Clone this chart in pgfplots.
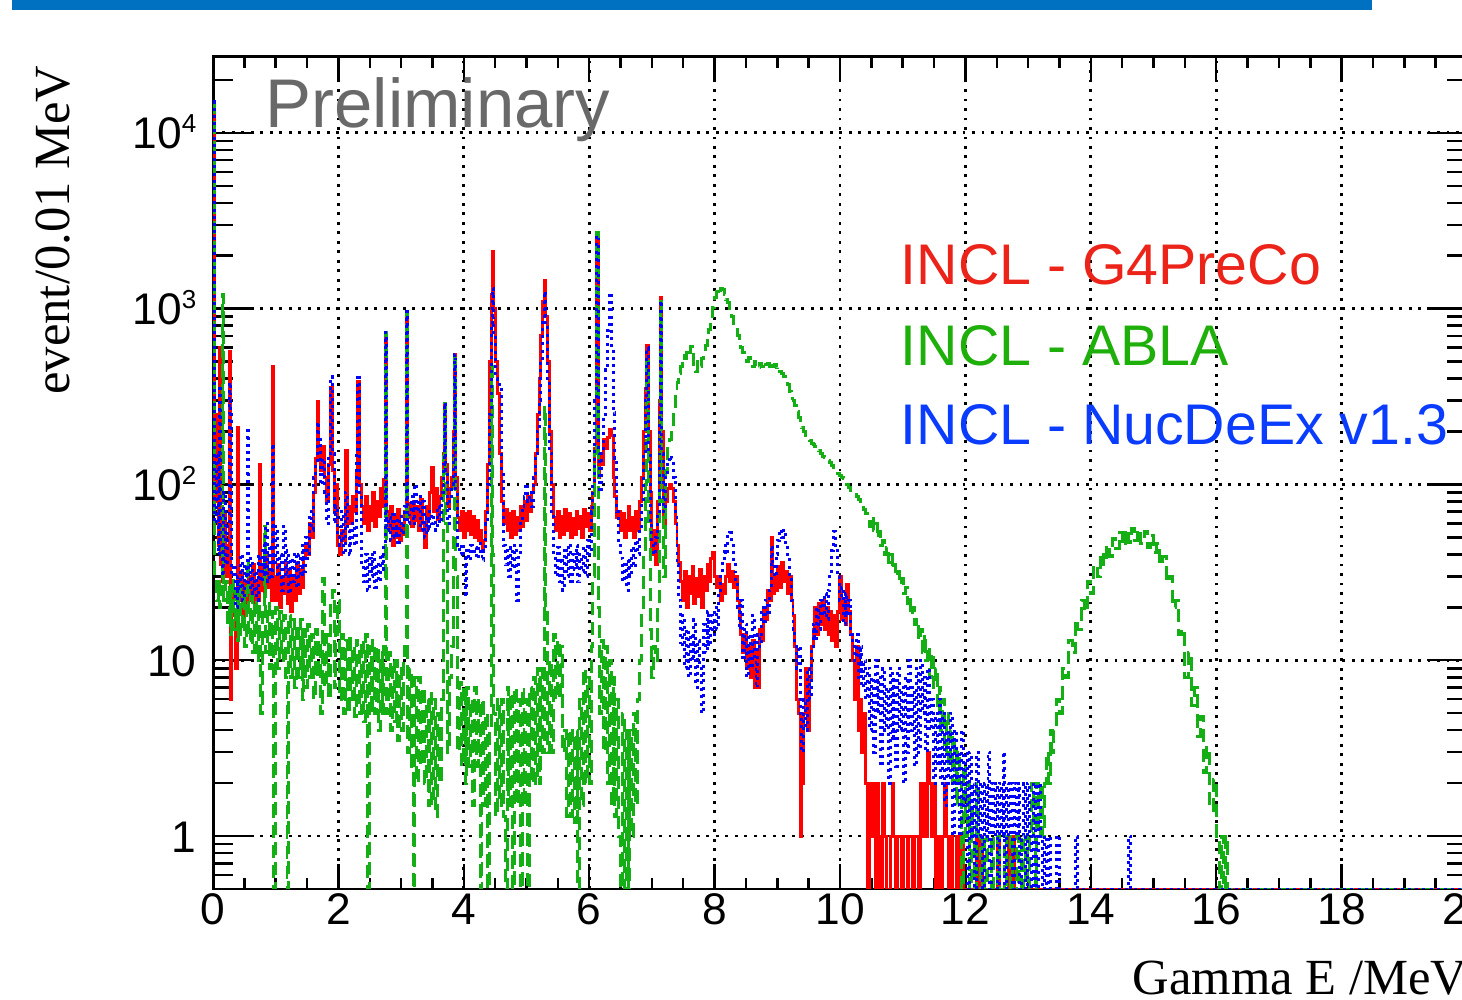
\documentclass[border=0pt]{standalone}
\usepackage{fontspec}
\setmainfont{Liberation Sans}
\newfontfamily\seriffont{Liberation Serif}
\usepackage{pgfplots}
\usepackage{pgfplotstable}
\pgfplotsset{compat=1.18}
\definecolor{rootred}{RGB}{255,0,0}
\definecolor{rootgreen}{RGB}{20,175,20}
\definecolor{rootblue}{RGB}{0,0,255}
\definecolor{barblue}{RGB}{0,112,192}
\definecolor{prelgray}{RGB}{105,105,105}
\definecolor{legred}{RGB}{235,35,25}
\definecolor{leggreen}{RGB}{30,175,10}
\definecolor{legblue}{RGB}{10,60,255}
\newcommand{\sups}[1]{\raisebox{4.6pt}{\fontsize{7.4}{8}\selectfont #1}}

\pgfplotstableread{
E R G B
0.00 15000 15000 15000
0.02 80 30 60
0.05 250 22 150
0.08 45 28 40
0.10 600 20 350
0.12 35 25 45
0.15 28 1200 30
0.17 70 22 90
0.20 30 28 35
0.23 45 16 60
0.26 570 26 380
0.28 6 14 250
0.30 25 29 30
0.33 18 15 35
0.36 9 25 20
0.39 210 13 30
0.41 22 27 25
0.44 32 14 40
0.47 18 24 22
0.50 28 12 35
0.53 20 26 28
0.55 24 37 210
0.57 30 13 26
0.60 22 23 38
0.63 35 11 24
0.66 20 22 32
0.69 28 10 22
0.72 22 21 40
0.74 130 12 35
0.76 25 5 28
0.79 35 20 45
0.82 24 58 30
0.84 40 11 60
0.87 26 21 28
0.90 32 9 45
0.93 22 19 30
0.95 470 12 170
0.97 30 0.5 35
1.00 22 20 58
1.03 35 9 30
1.06 20 19 40
1.09 30 10 25
1.12 24 18 58
1.15 36 8 30
1.18 21 0.5 42
1.21 33 18 24
1.24 19 8 38
1.27 30 17 28
1.30 22 7 41
1.33 36 16 26
1.36 24 8 40
1.39 33 17 30
1.42 26 6 45
1.45 38 15 32
1.48 45 7 50
1.51 40 16 38
1.54 60 8 70
1.57 50 14 55
1.60 90 6 110
1.63 140 15 130
1.66 295 8 225
1.69 160 13 180
1.72 120 5 100
1.75 165 29 140
1.78 110 7 90
1.81 80 14 60
1.84 130 6 150
1.87 355 22 410
1.90 120 25 150
1.93 70 7 60
1.96 100 14 75
1.99 45 22 50
2.02 40 6 45
2.05 55 14 70
2.08 48 5 40
2.11 155 13 90
2.14 60 5 55
2.17 75 14 40
2.20 60 6 50
2.23 85 12 60
2.26 70 4.8 45
2.29 120 13 150
2.31 385 12 420
2.34 100 5 90
2.37 75 13 35
2.40 60 4.5 28
2.43 85 14 40
2.46 55 0.5 25
2.49 75 12 38
2.52 62 5 30
2.55 90 13 42
2.58 58 5 26
2.61 80 12 36
2.64 66 4 28
2.67 95 11 40
2.70 75 5 33
2.72 107 12 45
2.75 730 730 730
2.77 70 5 55
2.80 55 11 65
2.83 75 4 48
2.86 45 10 70
2.89 65 4.5 50
2.92 50 10 62
2.95 72 3.5 45
2.98 48 9 66
3.01 60 4 52
3.04 52 10 60
3.06 70 12 75
3.08 960 960 960
3.10 65 3 60
3.13 78 9 70
3.16 58 2.5 85
3.19 80 0.5 60
3.22 62 8 100
3.25 75 2 70
3.28 55 8 85
3.31 82 2.5 55
3.34 60 7 80
3.37 44 2 50
3.40 75 6 65
3.43 65 1.5 55
3.46 90 6.5 70
3.49 125 1.5 60
3.52 70 6 65
3.55 95 1.3 55
3.58 63 5 75
3.61 85 2 60
3.64 110 6 90
3.67 150 145 130
3.69 290 290 290
3.71 130 60 120
3.74 75 3 60
3.77 95 8 80
3.80 110 12 100
3.83 200 50 180
3.85 550 550 550
3.87 110 30 90
3.90 65 3 45
3.93 55 7.5 40
3.96 70 2.5 46
3.99 50 7 38
4.02 68 2 23
4.05 55 7 42
4.08 70 2.5 37
4.11 52 6 45
4.14 66 1.5 40
4.17 50 7 44
4.20 62 2.5 38
4.23 48 6 46
4.26 55 0.5 40
4.29 42 6 37
4.32 48 1.5 42
4.35 70 5 60
4.38 130 0.5 100
4.41 500 4 250
4.44 1200 470 800
4.46 2100 40 1300
4.48 1000 5 700
4.51 500 1.3 400
4.54 330 6 380
4.57 150 1.5 360
4.60 80 6 120
4.63 60 1.3 45
4.66 72 0.5 35
4.69 55 7 42
4.72 68 1.5 30
4.75 50 6.5 44
4.78 70 0.5 33
4.81 52 7 45
4.84 65 1.5 22
4.87 55 6 40
4.90 75 0.5 60
4.93 58 7 75
4.96 80 1.5 85
4.99 62 6 97
5.02 85 0.5 80
5.05 70 7 90
5.08 90 2 75
5.11 100 8 110
5.14 150 2 140
5.17 250 9 200
5.20 400 2 300
5.23 700 9 500
5.26 1100 3 900
5.29 1450 275 1250
5.31 900 20 800
5.34 500 3 400
5.37 200 10 150
5.40 100 3 70
5.43 65 14 40
5.46 55 6 30
5.49 70 13 44
5.52 50 6 28
5.55 66 12 38
5.58 52 3 25
5.61 72 4 42
5.64 55 1.3 30
5.67 68 4 46
5.70 50 1.3 27
5.73 64 4 40
5.76 52 1.2 33
5.79 70 4 45
5.82 56 0.5 28
5.85 66 6 40
5.88 50 1.5 32
5.91 72 9 44
5.94 58 2 30
5.97 68 8 48
6.00 55 2 40
6.03 75 12 70
6.06 90 30 100
6.09 160 150 300
6.12 2700 2700 2600
6.15 110 20 150
6.17 150 5 90
6.20 130 13 150
6.23 180 3 250
6.26 160 12 450
6.29 185 2 750
6.32 205 10 1230
6.35 190 1.5 600
6.38 110 8 255
6.41 85 1.3 140
6.44 65 6 70
6.47 70 1 45
6.50 55 0.5 38
6.53 68 5 28
6.56 50 0.5 35
6.59 62 4 25
6.62 75 0.5 38
6.65 55 4 30
6.68 65 1 44
6.71 50 5 34
6.74 70 1.5 48
6.77 55 6 40
6.80 80 10 55
6.83 110 20 80
6.86 200 40 150
6.89 350 100 300
6.92 620 500 600
6.94 200 60 150
6.97 90 15 60
7.00 40 8 45
7.03 55 12 40
7.06 35 10 50
7.09 80 20 70
7.12 300 100 250
7.14 1160 1100 1100
7.16 200 80 150
7.19 60 30 70
7.22 80 120 110
7.25 95 165 130
7.28 100 180 145
7.31 95 205 140
7.34 80 260 110
7.37 60 330 70
7.40 45 380 35
7.43 36 430 22
7.46 28 470 12
7.49 22 540 18
7.52 32 520 9
7.55 20 590 15
7.58 30 560 8
7.61 24 610 14
7.64 34 580 10
7.67 21 470 17
7.70 29 440 7
7.73 23 500 13
7.76 33 470 9
7.79 20 520 5
7.82 30 560 16
7.85 25 620 11
7.88 35 680 19
7.91 28 760 12
7.94 38 880 18
7.97 41 1020 14
8.00 30 1150 20
8.03 26 1250 15
8.06 30 1200 25
8.09 22 1300 30
8.12 27 1280 38
8.15 24 1200 45
8.18 30 1120 40
8.21 35 1080 52
8.24 28 1000 53
8.27 32 900 45
8.30 26 820 35
8.33 30 760 28
8.36 22 700 20
8.39 18 650 15
8.42 14 600 22
8.45 11 560 10
8.48 14 520 16
8.51 9 500 8
8.54 12 530 14
8.57 8 490 9
8.60 13 470 18
8.63 7 500 10
8.66 11 480 7
8.69 7 460 14
8.72 15 490 12
8.75 13 470 20
8.78 20 500 16
8.81 17 480 22
8.84 25 490 18
8.87 22 470 25
8.90 50 500 45
8.92 24 470 35
8.95 30 480 30
8.98 25 460 40
9.01 34 470 48
9.04 26 440 55
9.07 36 430 50
9.10 28 410 55
9.13 32 400 45
9.16 24 370 38
9.19 30 340 30
9.22 22 310 22
9.25 18 300 15
9.28 12 280 12
9.31 6 260 9
9.34 5 240 12
9.37 1 220 5
9.39 2 210 3
9.42 5 200 6
9.45 9 190 4
9.48 4 185 9
9.51 8 178 6
9.54 12 172 12
9.57 15 168 16
9.60 20 165 13
9.63 14 160 20
9.66 21 155 15
9.69 16 150 22
9.72 22 145 18
9.75 15 142 24
9.78 20 140 17
9.81 14 136 25
9.84 19 133 30
9.87 13 128 42
9.90 18 122 54
9.93 12 120 45
9.96 19 116 30
9.99 30 112 22
10.02 17 110 26
10.05 22 108 16
10.08 16 104 24
10.11 27 100 18
10.14 19 96 22
10.17 14 92 14
10.20 10 90 12
10.23 6 88 10
10.26 12 85 14
10.29 4 82 8
10.32 6 80 12
10.35 3 76 7
10.38 5 72 10
10.41 2 68 6
10.44 0.5 65 9
10.47 2 58 4
10.50 1 66 8
10.53 2 55 3
10.56 0.5 60 10
10.59 2 50 5
10.62 1 54 8
10.65 0.5 45 2.5
10.68 2 48 9
10.71 1 40 4
10.74 0.5 44 7
10.77 0.5 36 2
10.80 1 40 9
10.83 2 33 3.5
10.86 1 35 8
10.89 0.5 30 2.5
10.92 1 32 9
10.95 1 27 4
10.98 0.5 29 7
11.01 1 24 2
11.04 1 26 8
11.07 0.5 21 3
11.10 1 23 10
11.13 1 18 4
11.16 0.5 20 7
11.19 1 16 2.5
11.22 1 17 9
11.25 0.5 13 3
11.28 2 15 10
11.31 1 11 5
11.34 2 14 8
11.37 1 10 3
11.40 3 12 9
11.43 2 8 4
11.46 1 11 6
11.49 2 7 2
11.52 0.5 9 5
11.55 1 5 2.5
11.58 1 7 6
11.61 0.5 4 2
11.64 1 6 5
11.67 2 3 1.5
11.70 1 5 4
11.73 0.5 2.5 2
11.76 1 4 5
11.79 0.5 2 1
11.82 0.5 3.5 4
11.85 1 1.5 2
11.88 1 3 3
11.91 0.5 2 1
11.94 1 0.5 4
11.97 0.5 2.5 1.5
12.00 0.5 1 3
12.03 0.5 2 0.5
12.06 0.5 0.5 3
12.09 0.5 1.5 1
12.12 0.5 1 2
12.15 0.5 0.5 0.5
12.18 1 2 3
12.21 0.5 1 1
12.24 1 0.5 2
12.27 0.5 1 0.5
12.30 0.5 0.5 2
12.33 0.5 1 1
12.36 0.5 0.5 3
12.39 0.5 0.5 0.5
12.42 0.5 1 2
12.45 0.5 0.5 1
12.48 0.5 0.5 2
12.51 1 1 0.5
12.54 0.5 0.5 2
12.57 0.5 0.5 1
12.60 0.5 0.5 3
12.63 0.5 1 0.5
12.66 0.5 0.5 2
12.69 1 0.5 1
12.72 0.5 1 2
12.75 1 0.5 0.5
12.78 0.5 0.5 2
12.81 0.5 1 1
12.84 0.5 0.5 2
12.87 0.5 0.5 0.5
12.90 0.5 1 1
12.93 0.5 0.5 2
12.96 0.5 1 0.5
12.99 0.5 0.5 2
13.02 0.5 1 1
13.05 0.5 2 0.5
13.08 0.5 1 2
13.11 0.5 0.5 1
13.14 0.5 2 0.5
13.17 0.5 1 2
13.20 0.5 2 1
13.23 0.5 1 0.5
13.26 0.5 2 1
13.29 0.5 3 0.5
13.32 0.5 2 1
13.35 0.5 4 0.5
13.38 0.5 3 0.5
13.40 0.5 4 0.5
13.45 0.5 6 1
13.50 0.5 5 0.5
13.55 0.5 9 0.5
13.60 0.5 8 0.5
13.65 0.5 13 0.5
13.70 0.5 11 0.5
13.75 0.5 17 1
13.78 0.5 15 0.5
13.85 0.5 22 0.5
13.90 0.5 19 0.5
13.95 0.5 28 0.5
14.00 0.5 24 0.5
14.05 0.5 35 0.5
14.10 0.5 30 0.5
14.15 0.5 41 0.5
14.20 0.5 35 0.5
14.25 0.5 45 0.5
14.30 0.5 39 0.5
14.35 0.5 49 0.5
14.40 0.5 43 0.5
14.45 0.5 53 0.5
14.50 0.5 45 0.5
14.55 0.5 55 0.5
14.60 0.5 47 1
14.63 0.5 49 0.5
14.65 0.5 56 0.5
14.70 0.5 48 0.5
14.75 0.5 55 0.5
14.80 0.5 46 0.5
14.85 0.5 54 0.5
14.90 0.5 44 0.5
14.95 0.5 51 0.5
15.00 0.5 41 0.5
15.05 0.5 46 0.5
15.10 0.5 35 0.5
15.15 0.5 39 0.5
15.20 0.5 28 0.5
15.25 0.5 30 0.5
15.30 0.5 20 0.5
15.35 0.5 22 0.5
15.40 0.5 14 0.5
15.45 0.5 15 0.5
15.50 0.5 8 0.5
15.55 0.5 11 0.5
15.60 0.5 5.5 0.5
15.65 0.5 7 0.5
15.70 0.5 3.7 0.5
15.75 0.5 4.8 0.5
15.80 0.5 2.3 0.5
15.85 0.5 3.2 0.5
15.90 0.5 1.4 0.5
15.95 0.5 2.1 0.5
16.00 0.5 1 0.5
16.05 0.5 0.5 0.5
16.08 0.5 1 0.5
16.12 0.5 0.5 0.5
16.15 0.5 1 0.5
16.18 0.5 0.5 0.5
20.00 0.5 0.5 0.5
}\spec

\begin{document}
\begin{tikzpicture}
\path[use as bounding box] (0,0) rectangle (14.62,10);
\fill[barblue] (0.12,9.90) rectangle (13.72,10.0);
\begin{axis}[
  at={(2.13cm,1.11cm)}, anchor=south west,
  scale only axis, width=12.54cm, height=8.32cm,
  xmin=0, xmax=20, ymode=log, ymin=0.5, ymax=27000,
  xtick={0,2,4,6,8,10,12,14,16,18,20},
  xticklabels={0,2,4,6,8,10,12,14,16,18,20},
  minor x tick num=3,
  ytick={1,10,100,1000,10000},
  yticklabels={1,10,{10\sups{2}},{10\sups{3}},{10\sups{4}}},
  minor ytick={0.6,0.7,0.8,0.9,2,3,4,5,6,7,8,9,20,30,40,50,60,70,80,90,200,300,400,500,600,700,800,900,2000,3000,4000,5000,6000,7000,8000,9000,20000},
  grid=major,
  major grid style={black, line width=0.8pt, dash pattern=on 0.8pt off 1.9pt},
  axis line style={line width=0.85pt},
  tick style={black, line width=0.7pt},
  xtick style={/pgfplots/major tick length=0.25cm, /pgfplots/minor tick length=0.11cm},
  ytick style={/pgfplots/major tick length=0.40cm, /pgfplots/minor tick length=0.20cm},
  tick label style={font=\fontsize{12.6}{14}\selectfont, inner sep=0pt},
  xticklabel style={anchor=north, yshift=-0.04cm},
  yticklabel style={anchor=base east, xshift=-0.16cm, yshift=-0.16cm},
]
\addplot[const plot, rootred, line width=0.85pt] table[x=E,y=R]{\spec};
\addplot[const plot, rootgreen, line width=0.85pt, dash pattern=on 3.8pt off 1.9pt] table[x=E,y=G]{\spec};
\addplot[const plot, rootblue, line width=0.85pt, dash pattern=on 0.85pt off 1.2pt] table[x=E,y=B]{\spec};
\end{axis}
\node[anchor=base west, inner sep=0pt, text=prelgray, font=\fontsize{19.6}{22}\selectfont] at (2.65,8.72) {Preliminary};
\node[anchor=base west, inner sep=0pt, text=legred, font=\fontsize{16.3}{19}\selectfont] at (9.00,7.15) {INCL - G4PreCo};
\node[anchor=base west, inner sep=0pt, text=leggreen, font=\fontsize{16.3}{19}\selectfont] at (9.00,6.34) {INCL - ABLA};
\node[anchor=base west, inner sep=0pt, text=legblue, font=\fontsize{16.3}{19}\selectfont] at (9.00,5.55) {INCL - NucDeEx v1.3};
\node[anchor=base east, inner sep=0pt, font=\seriffont\fontsize{14.4}{16}\selectfont] at (14.68,0.05) {Gamma E /MeV};
\node[rotate=90, anchor=base east, inner sep=0pt, font=\seriffont\fontsize{14.4}{16}\selectfont] at (0.70,9.35) {event/0.01 MeV};
\end{tikzpicture}
\end{document}
